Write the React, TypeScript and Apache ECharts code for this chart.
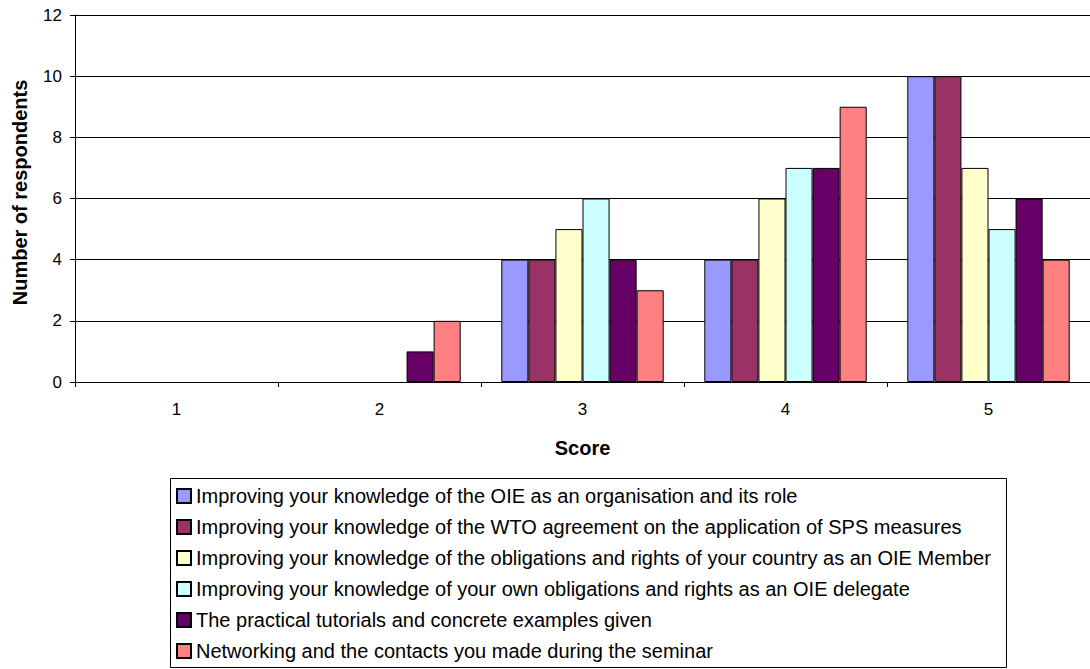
import React, { useEffect, useRef } from "react";
import * as echarts from "echarts";

const categories = ["1", "2", "3", "4", "5"];
const seriesNames = [
  "Improving your knowledge of the OIE as an organisation and its role",
  "Improving your knowledge of the WTO agreement on the application of SPS measures",
  "Improving your knowledge of the obligations and rights of your country as an OIE Member",
  "Improving your knowledge of your own obligations and rights as an OIE delegate",
  "The practical tutorials and concrete examples given",
  "Networking and the contacts you made during the seminar",
];
const oieRole = [0, 0, 4, 4, 10];
const wtoSps = [0, 0, 4, 4, 10];
const countryObligations = [0, 0, 5, 6, 7];
const delegateObligations = [0, 0, 6, 7, 5];
const tutorials = [0, 1, 4, 7, 6];
const networking = [0, 2, 3, 9, 4];
const seriesValues = [oieRole, wtoSps, countryObligations, delegateObligations, tutorials, networking];
const colors = ["#9999FF", "#993366", "#FFFFCC", "#CCFFFF", "#660066", "#FF8080"];

const FONT = "'Liberation Sans', Arial, sans-serif";

export default function App() {
  const ref = useRef<HTMLDivElement>(null);
  useEffect(() => {
    if (!ref.current) return;
    const chart = echarts.init(ref.current, undefined, { renderer: "svg" });
    chart.setOption({
      animation: false,
      backgroundColor: "#ffffff",
      textStyle: { fontFamily: FONT },
      grid: { left: 75, right: -10, top: 15, bottom: 287, containLabel: false },
      xAxis: {
        type: "category",
        data: categories,
        name: "Score",
        nameLocation: "middle",
        nameGap: 56,
        nameTextStyle: { fontFamily: FONT, fontSize: 20, fontWeight: "bold", color: "#000" },
        axisLine: { lineStyle: { color: "#000", width: 1 } },
        axisTick: { show: true, alignWithLabel: false, interval: 0, length: 5, lineStyle: { color: "#000" } },
        axisLabel: { fontFamily: FONT, fontSize: 17, color: "#000", margin: 19 },
        splitLine: { show: false },
      },
      yAxis: {
        type: "value",
        min: 0,
        max: 12,
        interval: 2,
        name: "Number of respondents",
        nameLocation: "middle",
        nameGap: 45,
        nameRotate: 90,
        nameTextStyle: { fontFamily: FONT, fontSize: 20, fontWeight: "bold", color: "#000", padding: [0, 0, 0, 12] },
        axisLine: { show: true, lineStyle: { color: "#000", width: 1 } },
        axisTick: { show: true, length: 5, lineStyle: { color: "#000" } },
        axisLabel: { fontFamily: FONT, fontSize: 17, color: "#000", margin: 13 },
        splitLine: { show: true, lineStyle: { color: "#000", width: 1 } },
      },
      legend: {
        orient: "vertical",
        left: 176,
        top: 486,
        padding: 0,
        itemGap: 11,
        itemWidth: 14,
        itemHeight: 14,
        icon: "rect",
        textStyle: { fontFamily: FONT, fontSize: 20, color: "#000" },
        data: seriesNames,
      },
      graphic: [
        {
          type: "rect",
          shape: { x: 170.5, y: 478.5, width: 836, height: 189 },
          style: { fill: "none", stroke: "#000", lineWidth: 1 },
          silent: true,
        },
      ],
      series: seriesNames.map((name, i) => ({
        name,
        type: "bar",
        data: seriesValues[i].map((v) =>
          v === 0 ? { value: v, itemStyle: { borderWidth: 0 } } : v
        ),
        barGap: "0%",
        barCategoryGap: "20%",
        itemStyle: { color: colors[i], borderColor: "#000", borderWidth: 1 },
      })),
    });
    return () => chart.dispose();
  }, []);
  return (
    <div
      ref={ref}
      style={{ position: "fixed", left: 0, top: 0, width: 1090, height: 669, background: "#fff" }}
    />
  );
}
